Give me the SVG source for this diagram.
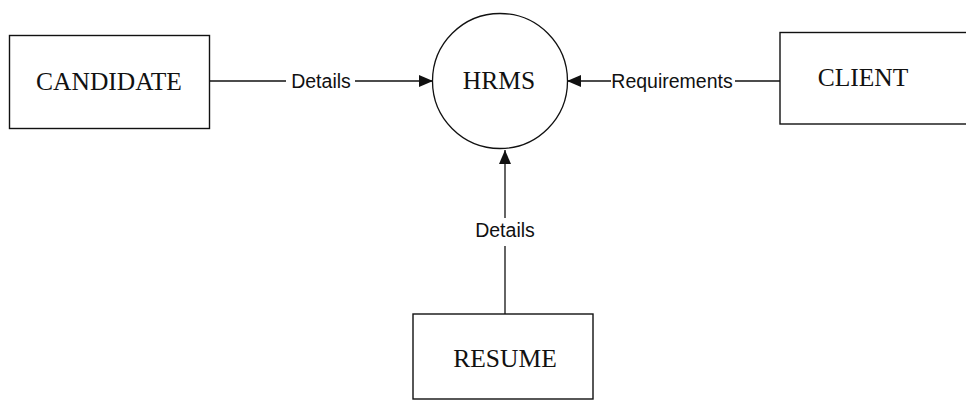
<svg xmlns="http://www.w3.org/2000/svg" width="966" height="409" viewBox="0 0 966 409">
  <style>
    .box { fill: #ffffff; stroke: #111111; stroke-width: 1.4; }
    .proc { fill: #ffffff; stroke: #111111; stroke-width: 1.3; }
    .name { font-family: "Liberation Serif", "Times New Roman", serif; font-size: 25.5px; fill: #111111; text-anchor: middle; }
    .flow { stroke: #111111; stroke-width: 1.3; fill: none; }
    .label { font-family: "Liberation Sans", Arial, sans-serif; font-size: 19.5px; fill: #111111; text-anchor: middle; }
  </style>
  <defs>
    <marker id="arrow" viewBox="0 0 14 12" refX="14" refY="6" markerWidth="14" markerHeight="12" markerUnits="userSpaceOnUse" orient="auto">
      <path d="M0,0 L14,6 L0,12 Z" fill="#111111"/>
    </marker>
  </defs>
  <rect width="966" height="409" fill="#ffffff"/>

  <g id="connectors">
    <!-- CANDIDATE to HRMS -->
    <line class="flow" x1="210" y1="81" x2="286" y2="81"/>
    <line class="flow" x1="355" y1="81" x2="433" y2="81" marker-end="url(#arrow)"/>
    <text class="label" x="321" y="87.5">Details</text>
    <!-- CLIENT to HRMS -->
    <line class="flow" x1="611" y1="81" x2="567" y2="81" marker-end="url(#arrow)"/>
    <line class="flow" x1="735" y1="81" x2="780" y2="81"/>
    <text class="label" x="672" y="87.5">Requirements</text>
    <!-- RESUME to HRMS -->
    <line class="flow" x1="505" y1="314" x2="505" y2="246"/>
    <line class="flow" x1="505" y1="218" x2="505" y2="150" marker-end="url(#arrow)"/>
    <text class="label" x="505" y="237">Details</text>
  </g>

  <g id="candidate">
    <rect class="box" x="9.5" y="35.5" width="200" height="93"/>
    <text class="name" x="109" y="90">CANDIDATE</text>
  </g>

  <g id="hrms">
    <circle class="proc" cx="500" cy="81" r="67.5"/>
    <text class="name" x="499" y="89">HRMS</text>
  </g>

  <g id="client">
    <rect class="box" x="780" y="32.5" width="200" height="91.5"/>
    <text class="name" x="863" y="86">CLIENT</text>
  </g>

  <g id="resume">
    <rect class="box" x="413" y="314" width="180" height="85"/>
    <text class="name" x="505" y="367">RESUME</text>
  </g>
</svg>
